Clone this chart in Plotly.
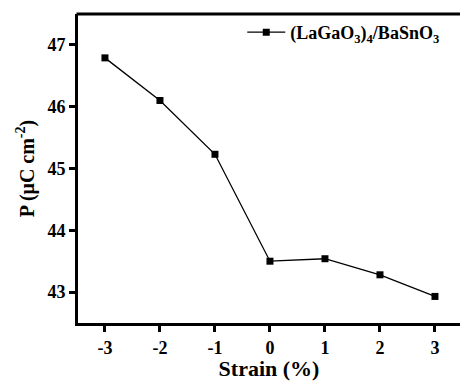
import plotly.graph_objects as go

strain = [-3, -2, -1, 0, 1, 2, 3]
polarization = [46.79, 46.10, 45.23, 43.50, 43.54, 43.28, 42.93]
x_tick_vals = [-3, -2, -1, 0, 1, 2, 3]
x_tick_text = ["<b>-3</b>", "<b>-2</b>", "<b>-1</b>", "<b>0</b>", "<b>1</b>", "<b>2</b>", "<b>3</b>"]
y_tick_vals = [43, 44, 45, 46, 47]
y_tick_text = ["<b>43</b>", "<b>44</b>", "<b>45</b>", "<b>46</b>", "<b>47</b>"]
series_name = "<b>(LaGaO<sub>3</sub>)<sub>4</sub>/BaSnO<sub>3</sub></b>"

FONT = "Liberation Serif, Times New Roman, serif"

fig = go.Figure()
fig.add_trace(go.Scatter(
    x=strain, y=polarization, mode="lines+markers", name=series_name,
    line=dict(color="black", width=1.3),
    marker=dict(symbol="square", size=7, color="black"),
))

fig.update_layout(
    width=460, height=381,
    margin=dict(l=78, r=0, t=14, b=56),
    paper_bgcolor="white", plot_bgcolor="white",
    font=dict(family=FONT, color="black"),
    showlegend=True,
    legend=dict(x=0.43, y=1.0, xanchor="left", yanchor="top",
                bgcolor="rgba(0,0,0,0)", font=dict(size=18, family=FONT),
                itemwidth=38),
    xaxis=dict(
        range=[-3.49, 3.455], tickvals=x_tick_vals, ticktext=x_tick_text,
        ticks="outside", ticklen=6, tickwidth=3, tickcolor="black",
        showline=True, linewidth=3, linecolor="black", mirror=False,
        showgrid=False, zeroline=False,
        tickfont=dict(size=18, family=FONT),
        title=dict(text="<b>Strain (%)</b>", font=dict(size=22, family=FONT), standoff=8),
    ),
    yaxis=dict(
        range=[42.5, 47.5], tickvals=y_tick_vals, ticktext=y_tick_text,
        ticks="outside", ticklen=6, tickwidth=3, tickcolor="black",
        showline=True, linewidth=3, linecolor="black", mirror=False,
        showgrid=False, zeroline=False,
        tickfont=dict(size=18, family=FONT),
        title=dict(text="<b>P (μC cm<sup>-2</sup>)</b>", font=dict(size=20, family=FONT), standoff=8),
    ),
    shapes=[dict(type="line", xref="paper", yref="paper", x0=-0.004, x1=1.0, y0=1, y1=1,
                 line=dict(color="black", width=3))],
)

fig.write_html("out.html")
